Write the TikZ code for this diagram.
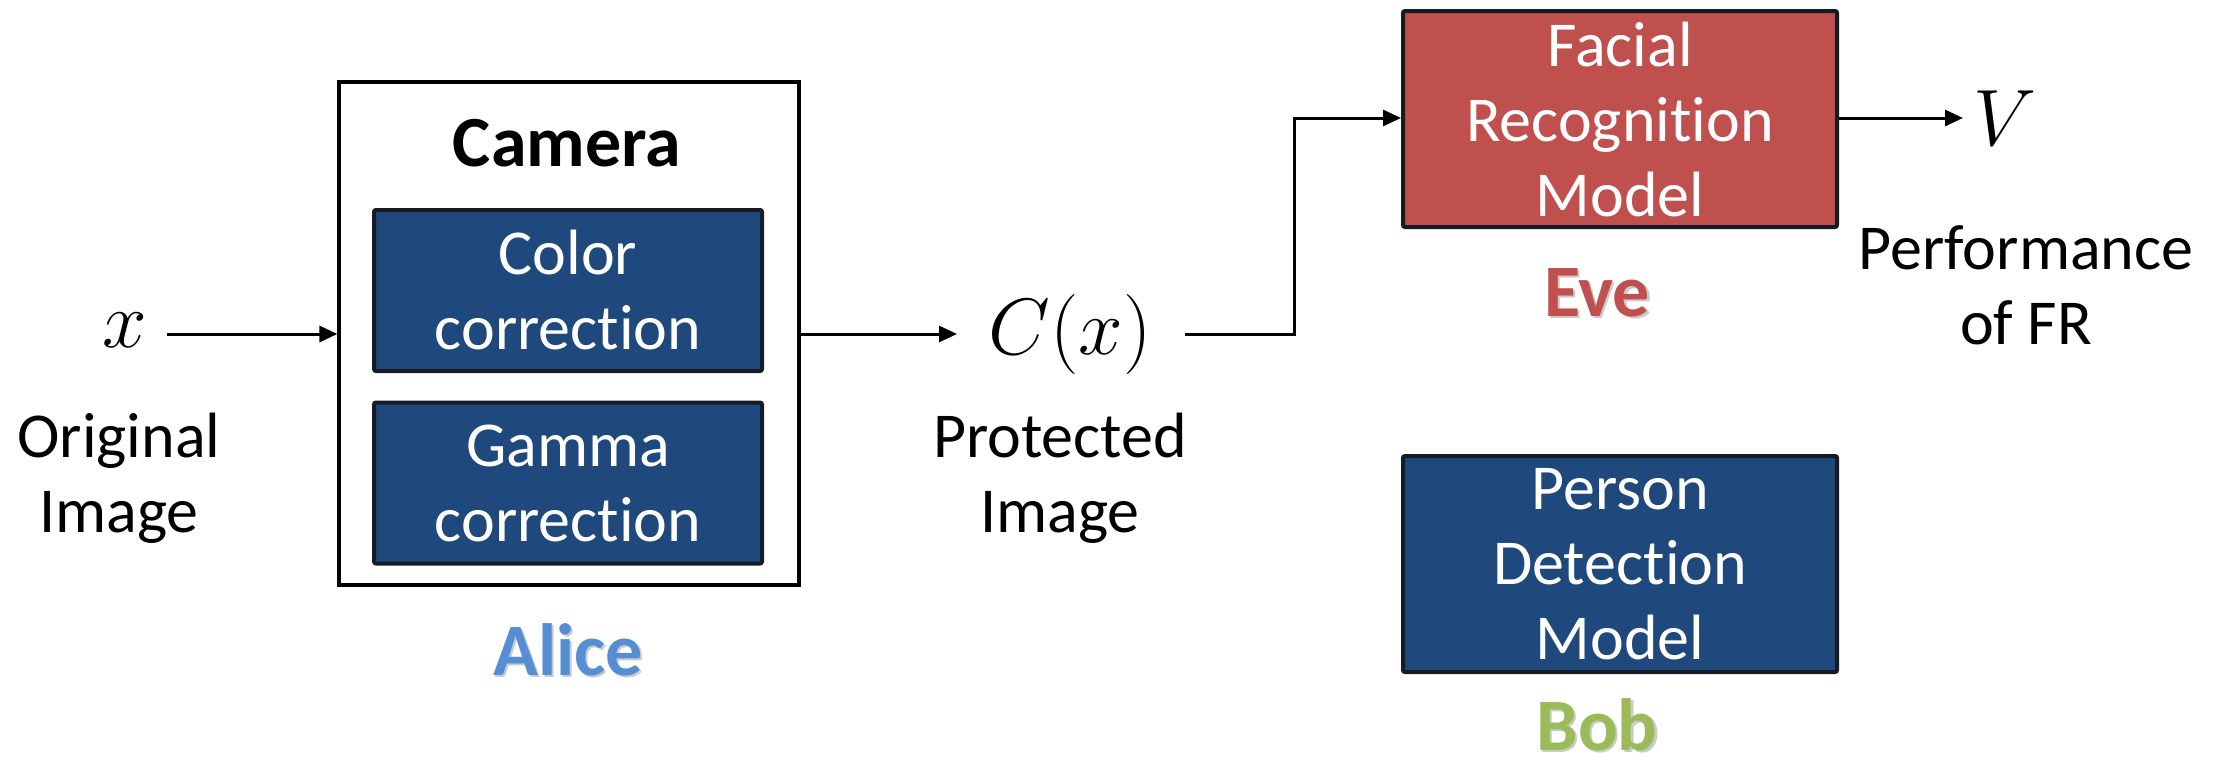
\RequirePackage{fix-cm}
\documentclass[tikz,border=0pt]{standalone}
\usepackage{fontspec}
\setmainfont{Carlito}[Ligatures=NoCommon]
\usetikzlibrary{arrows.meta,positioning}
\definecolor{boxblue}{HTML}{1F497D}
\definecolor{boxred}{HTML}{C0504D}
\definecolor{edgedark}{HTML}{161B24}
\definecolor{aliceblue}{HTML}{558ED5}
\definecolor{bobgreen}{HTML}{9BBB59}
\tikzset{
  body/.style={font=\fontsize{32}{37.5}\selectfont, align=center},
  block/.style={body, draw=edgedark, line width=2pt, rounded corners=1pt,
    text=white, minimum width=194pt, minimum height=80.5pt, inner sep=0pt},
  model/.style={block, minimum width=217pt, minimum height=108pt},
  mathlbl/.style={font=\fontsize{40}{44}\selectfont, inner sep=0pt},
  wire/.style={line width=1.5pt, -{Triangle[length=9pt,width=8pt]}},
  role/.style={font=\fontsize{37}{40}\selectfont\bfseries, inner sep=0pt,
    text depth=0pt, anchor=base},
}
% bold role name with a soft drop shadow; #2 is the baseline point
\newcommand{\rolelabel}[4]{%
  \node[role, text=black!45, opacity=0.45] at ([xshift=1.2pt,yshift=-1.2pt]#2) {#4};
  \node[role, text=#3] (#1) at (#2) {#4};}
\begin{document}
\begin{tikzpicture}[x=0.5pt,y=-0.5pt]
\useasboundingbox (0,0) rectangle (2222,771);

% camera enclosure and its processing stages
\node[draw=black, line width=1.6pt, minimum width=230pt, minimum height=251.5pt, inner sep=0pt]
  (camera) at (569,333.5) {};
\node[font=\fontsize{36}{40}\selectfont\bfseries] (camtitle) at (567,143) {Camera};
\node[block, fill=boxblue] (color) at (568,290.5) {Color\\correction};
\node[block, fill=boxblue] (gamma) at (568,483) {Gamma\\correction};
\rolelabel{alice}{568,675}{aliceblue}{Alice}

% input
\node[mathlbl] (x) at (125,330) {$x$};
\node[body] (orig) at (119,478) {Original\\Image};

% protected output
\node[mathlbl] (cx) at (1070,334) {$C(x)$};
\node[body] (prot) at (1060,478) {Protected\\Image};

% facial recognition branch
\node[model, fill=boxred] (fr) at (1620,119) {Facial\\Recognition\\Model};
\rolelabel{eve}{1597,316}{boxred}{Eve}
\node[mathlbl] (v) at (2005,118) {$V$};
\node[body] (perf) at (2026,285) {Performance\\of FR};

% person detection
\node[model, fill=boxblue] (pd) at (1620,564) {Person\\Detection\\Model};
\rolelabel{bob}{1597,750}{bobgreen}{Bob}

% connectors
\coordinate (xout) at (167,334);
\coordinate (cxin) at (957,334);
\coordinate (cxout) at (1185,334);
\coordinate (bend) at (1294,118);
\coordinate (vin) at (1963,118);
\draw[wire] (xout) -- (camera.west |- xout);
\draw[wire] (camera.east |- cxin) -- (cxin);
\draw[wire] (cxout) -| (bend) -- (fr.west |- bend);
\draw[wire] (fr.east |- vin) -- (vin);
\end{tikzpicture}
\end{document}
